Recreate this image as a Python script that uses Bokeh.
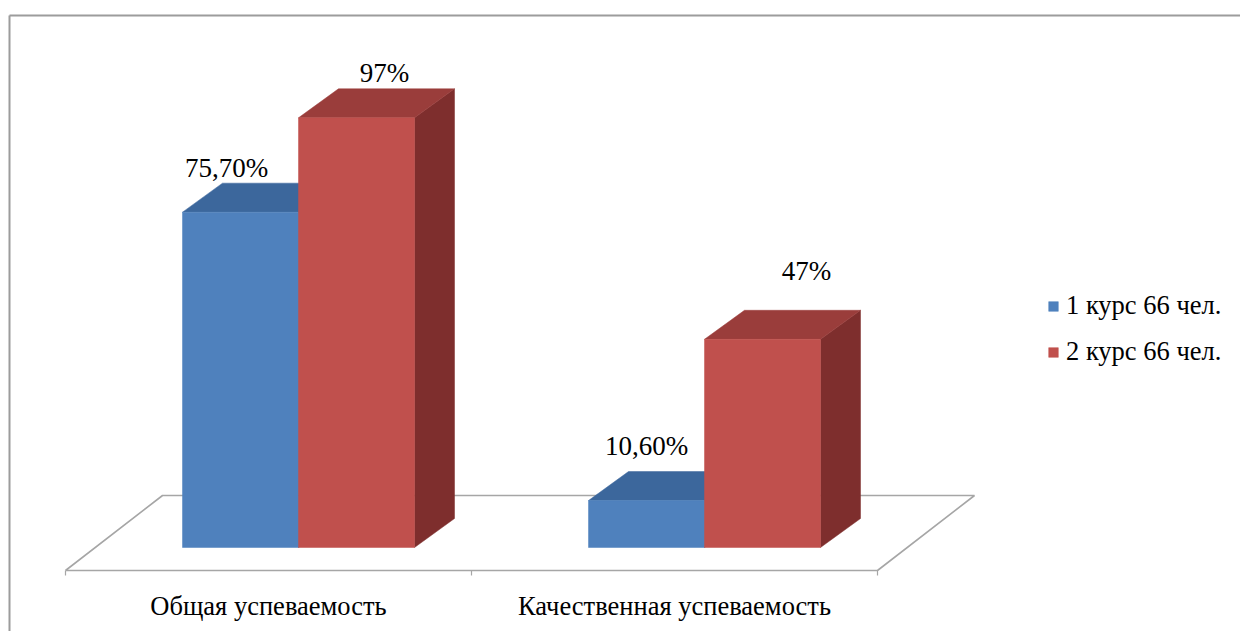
from bokeh.plotting import figure
from bokeh.models import Range1d, Legend, LegendItem
from bokeh.core.properties import value
from bokeh.embed import file_html
from bokeh.resources import INLINE

# ---------------- data ----------------
categories = ["Общая успеваемость", "Качественная успеваемость"]
series_names = ["1 курс 66 чел.", "2 курс 66 чел."]
course1 = [75.7, 10.6]
course2 = [97.0, 47.0]
labels1 = ["75,70%", "10,60%"]
labels2 = ["97%", "47%"]

# ---------------- layout / style ----------------
W, H = 1240, 631
X0 = 65.0          # px of the category axis start (floor front-left corner)
CAT_PX = 406.0     # px per category
Y0 = 570.0         # px from top of floor front line
PX_PER_PCT = 4.43  # px per percent

FONT_NAME = "Liberation Serif"
FONT = value(FONT_NAME)
BAR_FRAC = 116.0 / CAT_PX
FRONT_DX, FRONT_DY = 30.0, 23.0      # bar front face offset from floor front (px)
DEPTH_DX, DEPTH_DY = 40.0, 29.0      # bar depth (px)
FLOOR_DX, FLOOR_DY = 97.0, 75.0      # floor depth (px)

FRONT_COL = ["#4F81BD", "#C0504D"]
TOP_COL = ["#3C679C", "#9A3D3B"]
SIDE_COL = ["#345A88", "#7E2E2D"]
# label tweaks (px) per series, per category
LABEL_DX = [[-34, -20], [8, 24]]
LABEL_DY = [[30, 40], [30, 54]]


def du(px):
    return px / CAT_PX


def dv(px):
    return px / PX_PER_PCT


XMIN, XMAX = -X0 / CAT_PX, (W - X0) / CAT_PX
YMIN, YMAX = -(H - Y0) / PX_PER_PCT, Y0 / PX_PER_PCT

p = figure(width=W, height=H, output_backend="svg", toolbar_location=None,
           x_range=Range1d(XMIN, XMAX), y_range=Range1d(YMIN, YMAX),
           x_axis_location=None, y_axis_location=None, min_border=0)
p.grid.grid_line_color = None
p.outline_line_color = None
p.background_fill_color = "white"
p.border_fill_color = "white"

# chart border (left and top)
p.line([XMIN + du(9), XMIN + du(9)], [YMAX - dv(15), YMIN],
       line_color="#9c9c9c", line_width=2)
p.line([XMIN + du(9), XMAX], [YMAX - dv(15), YMAX - dv(15)],
       line_color="#9c9c9c", line_width=2)

# floor
n = len(categories)
floor_x = [0, n, n + du(FLOOR_DX), du(FLOOR_DX), 0]
floor_y = [0, 0, dv(FLOOR_DY), dv(FLOOR_DY), 0]
p.line(floor_x, floor_y, line_color="#a6a6a6", line_width=1.6)
for i in range(n + 1):
    p.line([i, i], [0, -dv(5)], line_color="#a6a6a6", line_width=1.2)

# bars
front_renderers = []
for s, vals in enumerate([course1, course2]):
    left, right, bottom, top = [], [], [], []
    top_xs, top_ys, side_xs, side_ys = [], [], [], []
    for c, v in enumerate(vals):
        xl = c + 0.5 - BAR_FRAC + s * BAR_FRAC + du(FRONT_DX)
        xr = xl + BAR_FRAC
        yb = dv(FRONT_DY)
        yt = yb + v
        left.append(xl); right.append(xr); bottom.append(yb); top.append(yt)
        ddx, ddy = du(DEPTH_DX), dv(DEPTH_DY)
        top_xs.append([xl, xr, xr + ddx, xl + ddx])
        top_ys.append([yt, yt, yt + ddy, yt + ddy])
        side_xs.append([xr, xr + ddx, xr + ddx, xr])
        side_ys.append([yb, yb + ddy, yt + ddy, yt])
    p.patches(side_xs, side_ys, fill_color=SIDE_COL[s], line_color=SIDE_COL[s], line_width=0.5)
    p.patches(top_xs, top_ys, fill_color=TOP_COL[s], line_color=TOP_COL[s], line_width=0.5)
    r = p.quad(left=left, right=right, bottom=bottom, top=top,
               fill_color=FRONT_COL[s], line_color=FRONT_COL[s], line_width=0.5)
    front_renderers.append(r)

# value labels
for s, (vals, labs) in enumerate([(course1, labels1), (course2, labels2)]):
    xs, ys = [], []
    for c, v in enumerate(vals):
        xc = c + 0.5 - BAR_FRAC + s * BAR_FRAC + du(FRONT_DX) + BAR_FRAC / 2 + du(DEPTH_DX / 2)
        yc = dv(FRONT_DY) + v + dv(DEPTH_DY / 2)
        xs.append(xc + du(LABEL_DX[s][c]))
        ys.append(yc + dv(LABEL_DY[s][c]))
    p.text(x=xs, y=ys, text=labs, text_font=FONT, text_font_size="27px",
           text_align="center", text_baseline="middle", text_color="#000000")

# category labels
p.text(x=[c + 0.5 for c in range(n)], y=[-dv(35)] * n, text=categories, text_font=FONT,
       text_font_size="26.5px", text_align="center", text_baseline="middle", text_color="#000000")

legend = Legend(items=[LegendItem(label=series_names[i], renderers=[front_renderers[i]]) for i in range(2)],
                location=(1047, 264), orientation="vertical")
legend.label_text_font = FONT_NAME
legend.label_text_font_size = "26.5px"
legend.label_text_color = "#000000"
legend.glyph_width = 12
legend.glyph_height = 12
legend.label_standoff = 7
legend.spacing = 15
legend.padding = 0
legend.margin = 0
legend.border_line_color = None
legend.background_fill_alpha = 0
p.add_layout(legend)

open("out.html", "w").write(file_html(p, INLINE))
